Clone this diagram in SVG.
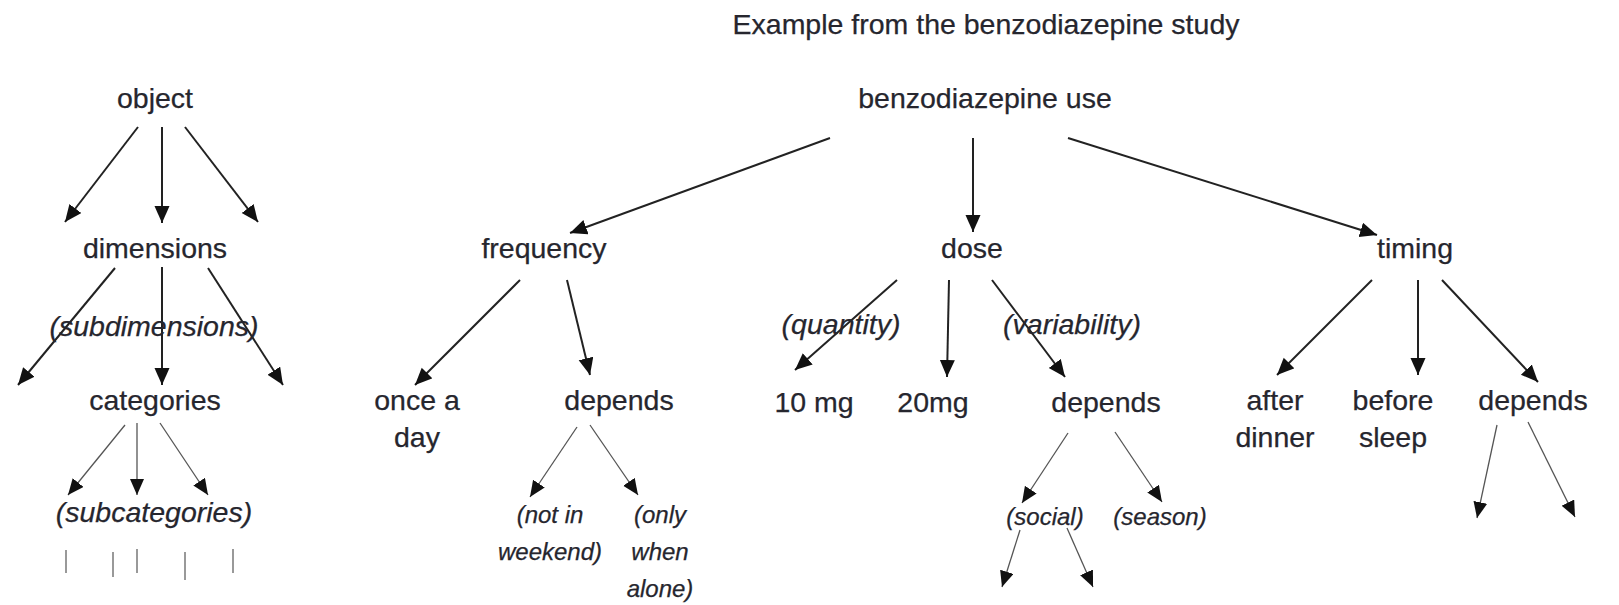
<svg xmlns="http://www.w3.org/2000/svg" width="1619" height="605" viewBox="0 0 1619 605">
<style>
text{font-family:"Liberation Sans",Arial,sans-serif;fill:#26262e;text-anchor:middle;stroke:#26262e;stroke-width:0.25}
.n{font-size:28.5px}
.i{font-size:28.5px;font-style:italic}
.s{font-size:24px;font-style:italic}
.t{font-size:28.5px}
.a{stroke:#222;stroke-width:2;fill:none;marker-end:url(#ah)}
.b{stroke:#555;stroke-width:1.3;fill:none;marker-end:url(#ahs)}
.k{stroke:#777;stroke-width:1.5}
</style>
<defs>
<marker id="ah" markerUnits="userSpaceOnUse" markerWidth="18" markerHeight="16" refX="17" refY="7.5" orient="auto"><path d="M0,0 L17,7.5 L0,15 z" fill="#111"/></marker>
<marker id="ahs" markerUnits="userSpaceOnUse" markerWidth="17" markerHeight="15" refX="16" refY="7" orient="auto"><path d="M0,0 L16,7 L0,14 z" fill="#111"/></marker>
</defs>
<rect width="1619" height="605" fill="#fff"/>
<text class="t" x="986" y="34">Example from the benzodiazepine study</text>
<g id="connectors">
<line class="a" x1="138" y1="127" x2="65" y2="222"/>
<line class="a" x1="162" y1="127" x2="162" y2="223"/>
<line class="a" x1="185" y1="127" x2="258" y2="222"/>
<line class="a" x1="115" y1="268" x2="18" y2="385"/>
<line class="a" x1="162" y1="267" x2="162" y2="385"/>
<line class="a" x1="208" y1="268" x2="283" y2="385"/>
<line class="a" x1="830" y1="138" x2="570" y2="233"/>
<line class="a" x1="973" y1="138" x2="973" y2="232"/>
<line class="a" x1="1068" y1="138" x2="1377" y2="235"/>
<line class="a" x1="520" y1="280" x2="415" y2="385"/>
<line class="a" x1="567" y1="280" x2="590" y2="375"/>
<line class="a" x1="897" y1="280" x2="795" y2="370"/>
<line class="a" x1="949" y1="280" x2="947" y2="377"/>
<line class="a" x1="992" y1="280" x2="1065" y2="377"/>
<line class="a" x1="1372" y1="280" x2="1277" y2="375"/>
<line class="a" x1="1418" y1="280" x2="1418" y2="375"/>
<line class="a" x1="1442" y1="280" x2="1538" y2="382"/>
<line class="b" x1="125" y1="425" x2="68" y2="495"/>
<line class="b" x1="137" y1="423" x2="137" y2="495"/>
<line class="b" x1="160" y1="423" x2="208" y2="495"/>
<line class="b" x1="577" y1="427" x2="530" y2="497"/>
<line class="b" x1="590" y1="425" x2="638" y2="495"/>
<line class="b" x1="1068" y1="433" x2="1022" y2="503"/>
<line class="b" x1="1115" y1="432" x2="1162" y2="502"/>
<line class="b" x1="1020" y1="530" x2="1002" y2="587"/>
<line class="b" x1="1067" y1="528" x2="1093" y2="587"/>
<line class="b" x1="1497" y1="425" x2="1477" y2="518"/>
<line class="b" x1="1528" y1="422" x2="1575" y2="517"/>
<line class="k" x1="66" y1="550" x2="66" y2="573"/>
<line class="k" x1="113" y1="552" x2="113" y2="577"/>
<line class="k" x1="137" y1="549" x2="137" y2="573"/>
<line class="k" x1="185" y1="552" x2="185" y2="580"/>
<line class="k" x1="233" y1="549" x2="233" y2="573"/>
</g>
<g id="object"><text class="n" x="155" y="108">object</text></g>
<g id="dimensions"><text class="n" x="155" y="258">dimensions</text></g>
<g id="subdimensions"><text class="i" x="154" y="336">(subdimensions)</text></g>
<g id="categories"><text class="n" x="155" y="410">categories</text></g>
<g id="subcategories"><text class="i" x="154" y="522">(subcategories)</text></g>
<g id="benzo"><text class="n" x="985" y="108">benzodiazepine use</text></g>
<g id="frequency"><text class="n" x="544" y="258">frequency</text></g>
<g id="dose"><text class="n" x="972" y="258">dose</text></g>
<g id="timing"><text class="n" x="1415" y="258">timing</text></g>
<g id="once"><text class="n" x="417" y="410">once a</text><text class="n" x="417" y="447">day</text></g>
<g id="freq-depends"><text class="n" x="619" y="410">depends</text></g>
<g id="notin"><text class="s" x="550" y="523">(not in</text><text class="s" x="550" y="560">weekend)</text></g>
<g id="only"><text class="s" x="660" y="523">(only</text><text class="s" x="660" y="560">when</text><text class="s" x="660" y="597">alone)</text></g>
<g id="quantity"><text class="i" x="841" y="334">(quantity)</text></g>
<g id="variability"><text class="i" x="1072" y="334">(variability)</text></g>
<g id="mg10"><text class="n" x="814" y="412">10 mg</text></g>
<g id="mg20"><text class="n" x="933" y="412">20mg</text></g>
<g id="dose-depends"><text class="n" x="1106" y="412">depends</text></g>
<g id="social"><text class="s" x="1045" y="525">(social)</text></g>
<g id="season"><text class="s" x="1160" y="525">(season)</text></g>
<g id="after"><text class="n" x="1275" y="410">after</text><text class="n" x="1275" y="447">dinner</text></g>
<g id="before"><text class="n" x="1393" y="410">before</text><text class="n" x="1393" y="447">sleep</text></g>
<g id="timing-depends"><text class="n" x="1533" y="410">depends</text></g>
</svg>
